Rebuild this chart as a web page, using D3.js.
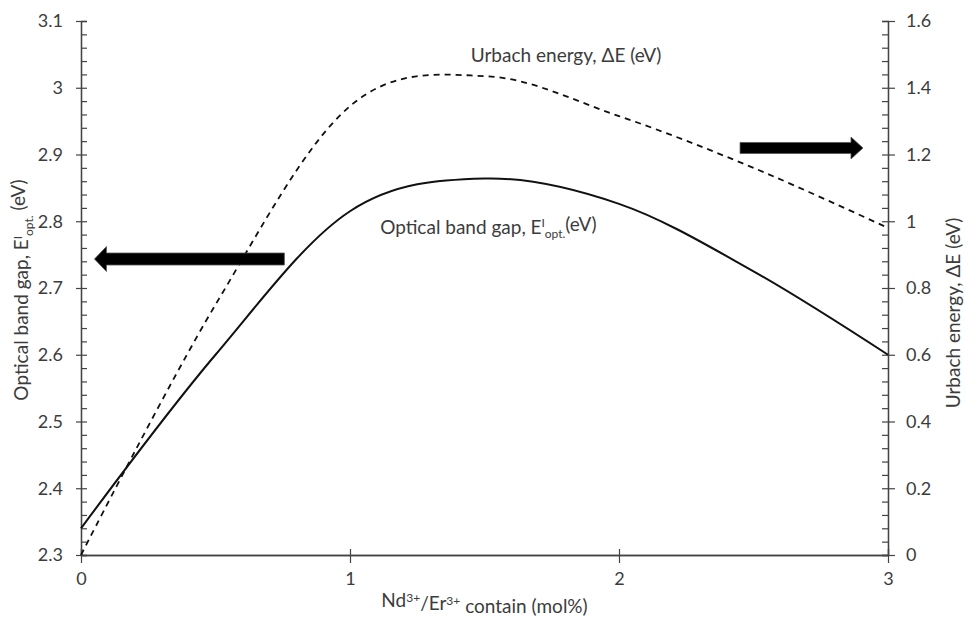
<!DOCTYPE html>
<html>
<head>
<meta charset="utf-8">
<script src="https://cdn.jsdelivr.net/npm/d3@7"></script>
<style>
  body { margin: 0; background: #fff; }
  text { font-family: Lato, 'Open Sans', sans-serif; fill: #3c3c3c; }
</style>
</head>
<body>
<div id="chart"></div>
<script>
'use strict'

// Nd/Er content (mol%)
var contents = [0, 0.5, 1, 1.5, 2, 2.5, 3]
// optical band gap (eV), left axis
var bandGap = [2.34, 2.6, 2.815, 2.864, 2.826, 2.725, 2.6]
// Urbach energy (eV), right axis
var urbach = [0, 0.75, 1.345, 1.435, 1.315, 1.16, 0.98]

var xTicks = [0, 1, 2, 3]
var leftTicks = [2.3, 2.4, 2.5, 2.6, 2.7, 2.8, 2.9, 3, 3.1]
var rightTicks = [0, 0.2, 0.4, 0.6, 0.8, 1, 1.2, 1.4, 1.6]

var width = 966
var height = 619
var margin = { top: 21, right: 78, bottom: 64, left: 81 }
var w = width - margin.left - margin.right
var h = height - margin.top - margin.bottom

var svg = d3
  .select('#chart')
  .append('svg')
  .attr('width', width)
  .attr('height', height)

var g = svg
  .append('g')
  .attr('transform', 'translate(' + margin.left + ',' + margin.top + ')')

var x = d3.scaleLinear().domain([0, 3]).range([0, w])
var yL = d3.scaleLinear().domain([2.3, 3.1]).range([h, 0])
var yR = d3.scaleLinear().domain([0, 1.6]).range([h, 0])

// minor tick values: 5 subdivisions between majors
function minors(ticks) {
  var out = []
  for (var i = 0; i < ticks.length - 1; i++) {
    var step = (ticks[i + 1] - ticks[i]) / 5
    for (var k = 1; k < 5; k++) out.push(ticks[i] + step * k)
  }
  return out
}

function styleAxis(sel) {
  sel.select('.domain').attr('stroke', '#444').attr('stroke-width', 1.3)
  sel.selectAll('.tick line').attr('stroke', '#444').attr('stroke-width', 1.2)
  sel
    .selectAll('text')
    .attr('font-size', '18px')
    .attr('font-family', 'Lato, sans-serif')
    .attr('fill', '#3c3c3c')
}

// x axis
g.append('g')
  .attr('transform', 'translate(0,' + h + ')')
  .call(d3.axisBottom(x).tickValues(xTicks).tickSize(-6).tickFormat(''))
  .call(styleAxis)
g.append('g')
  .attr('transform', 'translate(0,' + h + ')')
  .call(
    d3
      .axisBottom(x)
      .tickValues(xTicks)
      .tickSizeInner(8)
      .tickSizeOuter(0)
      .tickPadding(9)
      .tickFormat(d3.format('d'))
  )
  .call(styleAxis)

// left axis
g.append('g')
  .call(
    d3
      .axisLeft(yL)
      .tickValues(leftTicks.concat(minors(leftTicks)))
      .tickSize(-6)
      .tickFormat('')
  )
  .call(styleAxis)
g.append('g')
  .call(
    d3
      .axisLeft(yL)
      .tickValues(leftTicks)
      .tickSizeInner(5)
      .tickSizeOuter(0)
      .tickPadding(13)
      .tickFormat(function(d) {
        return d3.format('.1f')(d).replace('.0', '')
      })
  )
  .call(styleAxis)

// right axis
g.append('g')
  .attr('transform', 'translate(' + w + ',0)')
  .call(
    d3
      .axisRight(yR)
      .tickValues(rightTicks.concat(minors(rightTicks)))
      .tickSize(-6)
      .tickFormat('')
  )
  .call(styleAxis)
g.append('g')
  .attr('transform', 'translate(' + w + ',0)')
  .call(
    d3
      .axisRight(yR)
      .tickValues(rightTicks)
      .tickSizeInner(7)
      .tickSizeOuter(0)
      .tickPadding(11)
      .tickFormat(function(d) {
        return d === 0 || d === 1 ? String(d) : d3.format('.1f')(d)
      })
  )
  .call(styleAxis)

// curves
var bgLine = d3
  .line()
  .x(function(d, i) {
    return x(contents[i])
  })
  .y(function(d) {
    return yL(d)
  })
  .curve(d3.curveCardinal.tension(0))

var ubLine = d3
  .line()
  .x(function(d, i) {
    return x(contents[i])
  })
  .y(function(d) {
    return yR(d)
  })
  .curve(d3.curveCardinal.tension(0))

g.append('path')
  .datum(urbach)
  .attr('d', ubLine)
  .attr('fill', 'none')
  .attr('stroke', '#111')
  .attr('stroke-width', 1.8)
  .attr('stroke-dasharray', '6,5')

g.append('path')
  .datum(bandGap)
  .attr('d', bgLine)
  .attr('fill', 'none')
  .attr('stroke', '#111')
  .attr('stroke-width', 2)

// arrows
function arrow(x0, x1, yc, shaft, head, headLen) {
  var dir = x1 > x0 ? 1 : -1
  var hb = x1 - dir * headLen
  return (
    'M' + x0 + ',' + (yc - shaft) +
    'L' + hb + ',' + (yc - shaft) +
    'L' + hb + ',' + (yc - head) +
    'L' + x1 + ',' + yc +
    'L' + hb + ',' + (yc + head) +
    'L' + hb + ',' + (yc + shaft) +
    'L' + x0 + ',' + (yc + shaft) + 'Z'
  )
}

g.append('path')
  .attr('d', arrow(x(0.756), x(0.05), yL(2.7434), 6, 12.5, 12))
  .attr('fill', '#000')
  .attr('stroke', '#555')
  .attr('stroke-width', 0.8)

g.append('path')
  .attr('d', arrow(x(2.45), x(2.907), yR(1.2195), 5.5, 11, 12))
  .attr('fill', '#000')
  .attr('stroke', '#555')
  .attr('stroke-width', 0.8)

// in-plot labels
g.append('text')
  .attr('x', x(1.449))
  .attr('y', yR(1.477))
  .attr('font-size', '19px')
  .text('Urbach energy, \u0394E (eV)')

var bgText = g
  .append('text')
  .attr('x', x(1.112))
  .attr('y', yL(2.7815))
  .attr('font-size', '19px')
bgText.append('tspan').text('Optical band gap, E')
bgText.append('tspan').attr('dy', '-0.55em').attr('font-size', '12px').text('I')
bgText
  .append('tspan')
  .attr('dy', '0.95em')
  .attr('font-size', '12px')
  .text('opt.')
bgText.append('tspan').attr('dy', '-0.4em').text('(eV)')

// axis titles
svg
  .append('text')
  .attr('text-anchor', 'middle')
  .attr('x', margin.left + w / 2)
  .attr('y', 607)
  .attr('font-size', '19px')
  .call(function(t) {
    t.append('tspan').text('Nd')
    t.append('tspan').attr('dy', '-0.4em').attr('font-size', '12px').text('3+')
    t.append('tspan').attr('dy', '0.4em').text('/Er')
    t.append('tspan').attr('dy', '-0.4em').attr('font-size', '12px').text('3+')
    t.append('tspan').attr('dy', '0.4em').text(' contain (mol%)')
  })

svg
  .append('text')
  .attr('text-anchor', 'middle')
  .attr('transform', 'translate(28,290) rotate(-90)')
  .attr('font-size', '19px')
  .call(function(t) {
    t.append('tspan').text('Optical band gap, E')
    t.append('tspan').attr('dy', '-0.5em').attr('font-size', '12px').text('I')
    t.append('tspan').attr('dy', '0.9em').attr('font-size', '12px').text('opt.')
    t.append('tspan').attr('dy', '-0.4em').text(' (eV)')
  })

svg
  .append('text')
  .attr('text-anchor', 'middle')
  .attr('transform', 'translate(960,313) rotate(-90)')
  .attr('font-size', '19px')
  .text('Urbach energy, \u0394E (eV)')
</script>
</body>
</html>
